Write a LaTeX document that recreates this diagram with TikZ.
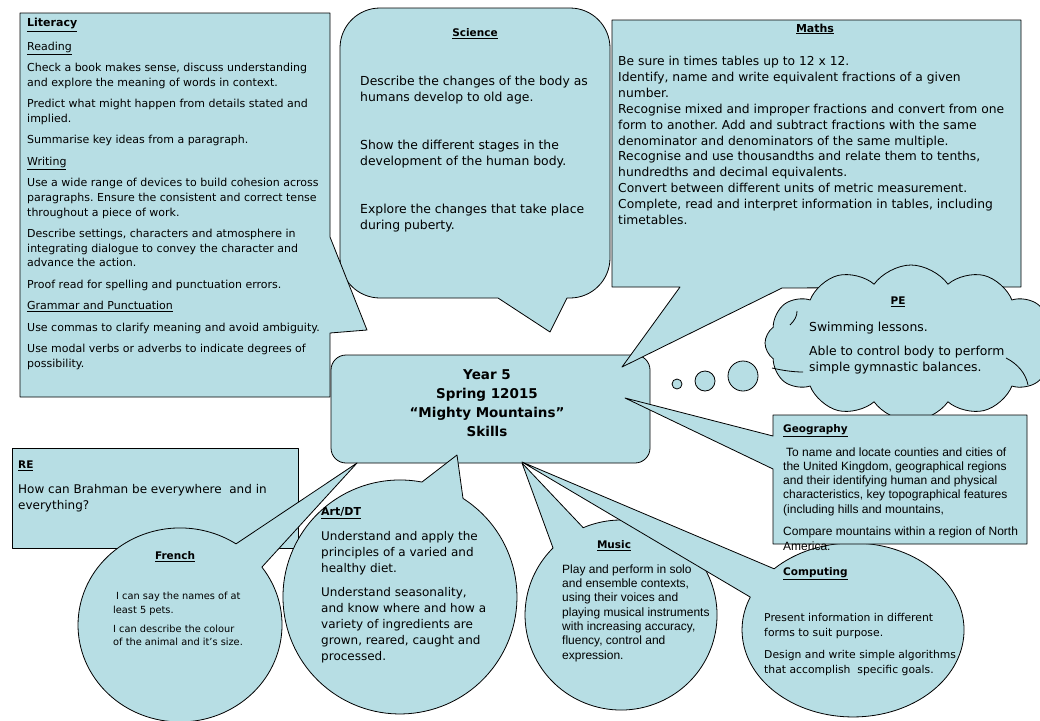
\documentclass[tikz,border=0pt]{standalone}
\usepackage{fontspec}
\setmainfont{DejaVu Sans}
\newfontfamily\arialfont{Liberation Sans}
\usetikzlibrary{shapes.symbols}
\definecolor{calloutfill}{RGB}{183,222,228}
\tikzset{
  shapefill/.style={draw=black, fill=calloutfill, line width=0.8pt, line join=round},
  bodytext/.style={anchor=north west, align=left, inner sep=0pt},
  titletext/.style={inner sep=0pt, font=\fontsize{10.5}{12}\selectfont\bfseries},
  crease/.style={draw=black, line width=0.8pt},
}
\frenchspacing
\begin{document}
\frenchspacing
\begin{tikzpicture}[x=1pt,y=1pt]
\useasboundingbox (0,0) rectangle (1040,-720);
\clip (0,0) rectangle (1040,-720);
\fill[white] (0,0) rectangle (1040,-720);

% Science (rounded callout)
\draw[shapefill] (498,-298) -- (550,-332) -- (567,-298) -- (570,-298)
  arc[start angle=-90, end angle=0, radius=40] -- (610,-48)
  arc[start angle=0, end angle=90, radius=40] -- (380,-8)
  arc[start angle=90, end angle=180, radius=40] -- (340,-258)
  arc[start angle=180, end angle=270, radius=40] -- cycle;

% Literacy
\draw[shapefill] (20,-13) -- (330,-13) -- (330,-237) -- (367,-330) -- (330,-333)
  -- (330,-397) -- (20,-397) -- cycle;

% RE
\draw[shapefill] (12,-448) rectangle (298,-548);

% Centre
\node[shapefill, rounded corners=15pt, minimum width=319pt, minimum height=108pt, inner sep=0pt] (centre) at (490.5,-409) {};

% Maths
\draw[shapefill] (612,-20) -- (1021,-20) -- (1021,-287) -- (782,-288) -- (622,-367)
  -- (680,-287) -- (612,-287) -- cycle;

% PE cloud and bubbles
\node[cloud, shapefill, cloud puffs=12, cloud puff arc=110, aspect=1.85,
  minimum width=292pt, minimum height=156pt] (pecloud) at (911,-343) {};
\draw[crease] (790,-325) .. controls (795,-320) and (797,-316) .. (797,-311);
\draw[crease] (772,-368) .. controls (785,-371) and (795,-372) .. (803,-372);
\draw[crease] (1006,-358) .. controls (1018,-364) and (1026,-374) .. (1028,-385);
\node[circle, shapefill, minimum size=10pt, inner sep=0pt] (bubA) at (677,-384) {};
\node[circle, shapefill, minimum size=20pt, inner sep=0pt] (bubB) at (705,-381) {};
\node[circle, shapefill, minimum size=30pt, inner sep=0pt] (bubC) at (743,-376) {};

% French
\draw[shapefill] (261.9,-567.1) arc[start angle=36.6, end angle=-303.3, x radius=102, y radius=97]
  -- (357,-463) -- cycle;
% Art/DT
\draw[shapefill] (463,-498.4) arc[start angle=57.4, end angle=-280.8, radius=117]
  -- (457,-455) -- cycle;
% Music
\draw[shapefill] (583.2,-527.7) arc[start angle=113.2, end angle=-224.9, x radius=96, y radius=95]
  -- (522,-463) -- cycle;
% Computing
\draw[shapefill] (774.1,-568.8) arc[start angle=135.33, end angle=-202.2, x radius=111, y radius=87]
  -- (522,-462) -- cycle;

% Geography
\draw[shapefill] (773,-415) -- (1027,-415) -- (1027,-544) -- (773,-544) -- (773,-469)
  -- (625,-398) -- (773,-436) -- cycle;

% ---- texts ----
\node[titletext, anchor=west, font=\fontsize{11}{12}\selectfont\bfseries] (littitle) at (27,-25) {\underline{Literacy}};
\node[bodytext, font=\fontsize{11}{14.6}\selectfont] (litbody) at (27,-41.6) {%
\underline{Reading}\\[6.9pt]
Check a book makes sense, discuss understanding\\
and explore the meaning of words in context.\\[6.9pt]
Predict what might happen from details stated and\\
implied.\\[6.9pt]
Summarise key ideas from a paragraph.\\[6.9pt]
\underline{Writing}\\[6.9pt]
Use a wide range of devices to build cohesion across\\
paragraphs. Ensure the consistent and correct tense\\
throughout a piece of work.\\[6.9pt]
Describe settings, characters and atmosphere in\\
integrating dialogue to convey the character and\\
advance the action.\\[6.9pt]
Proof read for spelling and punctuation errors.\\[6.9pt]
\underline{Grammar and Punctuation}\\[6.9pt]
Use commas to clarify meaning and avoid ambiguity.\\[6.9pt]
Use modal verbs or adverbs to indicate degrees of\\
possibility.};

\node[titletext] (scititle) at (475,-34) {\underline{Science}};
\node[bodytext, font=\fontsize{12.4}{16}\selectfont] (scibody) at (360,-75.9) {%
Describe the changes of the body as\\
humans develop to old age.\\[32pt]
Show the different stages in the\\
development of the human body.\\[32pt]
Explore the changes that take place\\
during puberty.};

\node[titletext, font=\fontsize{11}{12}\selectfont\bfseries] (mathtitle) at (815,-29) {\underline{Maths}};
\node[bodytext, font=\fontsize{12.3}{15.9}\selectfont] (mathbody) at (618,-56) {%
Be sure in times tables up to 12 x 12.\\
Identify, name and write equivalent fractions of a given\\
number.\\
Recognise mixed and improper fractions and convert from one\\
form to another. Add and subtract fractions with the same\\
denominator and denominators of the same multiple.\\
Recognise and use thousandths and relate them to tenths,\\
hundredths and decimal equivalents.\\
Convert between different units of metric measurement.\\
Complete, read and interpret information in tables, including\\
timetables.};

\node[inner sep=0pt, align=center, font=\fontsize{13.5}{19}\selectfont\bfseries] (centretext) at (487,-403) {%
Year 5\\Spring 12015\\“Mighty Mountains”\\Skills};

\node[titletext] (petitle) at (898,-302) {\underline{PE}};
\node[bodytext, font=\fontsize{12.4}{15.5}\selectfont] (pebody) at (809,-321.9) {%
Swimming lessons.\\[8.5pt]
Able to control body to perform\\
simple gymnastic balances.};

\node[titletext, anchor=west] (geotitle) at (783,-431) {\underline{Geography}};
\node[bodytext, font=\arialfont\fontsize{12}{14.2}\selectfont] (geobody) at (783,-447.4) {%
\hspace*{3pt}To name and locate counties and cities of\\
the United Kingdom, geographical regions\\
and their identifying human and physical\\
characteristics, key topographical features\\
(including hills and mountains,\\[8.6pt]
Compare mountains within a region of North\\
America.};

\node[titletext, anchor=west] (retitle) at (18,-466) {\underline{RE}};
\node[bodytext, font=\fontsize{12}{16}\selectfont] (rebody) at (18,-484) {%
How can Brahman be everywhere\ \ and in\\
everything?};

\node[titletext] (frtitle) at (175,-557) {\underline{French}};
\node[bodytext, font=\fontsize{9.8}{13.3}\selectfont] (frbody) at (113,-592.2) {%
\hspace*{3pt}I can say the names of at\\
least 5 pets.\\[5.7pt]
I can describe the colour\\
of the animal and it's size.};

\node[titletext, anchor=west, font=\fontsize{11}{12}\selectfont\bfseries] (arttitle) at (321,-513) {\underline{Art/DT}};
\node[bodytext, font=\fontsize{12}{16}\selectfont] (artbody) at (321,-531.1) {%
Understand and apply the\\
principles of a varied and\\
healthy diet.\\[8pt]
Understand seasonality,\\
and know where and how a\\
variety of ingredients are\\
grown, reared, caught and\\
processed.};

\node[titletext] (mustitle) at (614,-546) {\underline{Music}};
\node[bodytext, font=\arialfont\fontsize{12}{14.3}\selectfont] (musbody) at (562,-564.4) {%
Play and perform in solo\\
and ensemble contexts,\\
using their voices and\\
playing musical instruments\\
with increasing accuracy,\\
fluency, control and\\
expression.};

\node[titletext, anchor=west] (comptitle) at (783,-574) {\underline{Computing}};
\node[bodytext, font=\fontsize{10.8}{15}\selectfont] (compbody) at (764,-612.7) {%
Present information in different\\
forms to suit purpose.\\[7pt]
Design and write simple algorithms\\
that accomplish\ \ specific goals.};
\end{tikzpicture}
\end{document}
